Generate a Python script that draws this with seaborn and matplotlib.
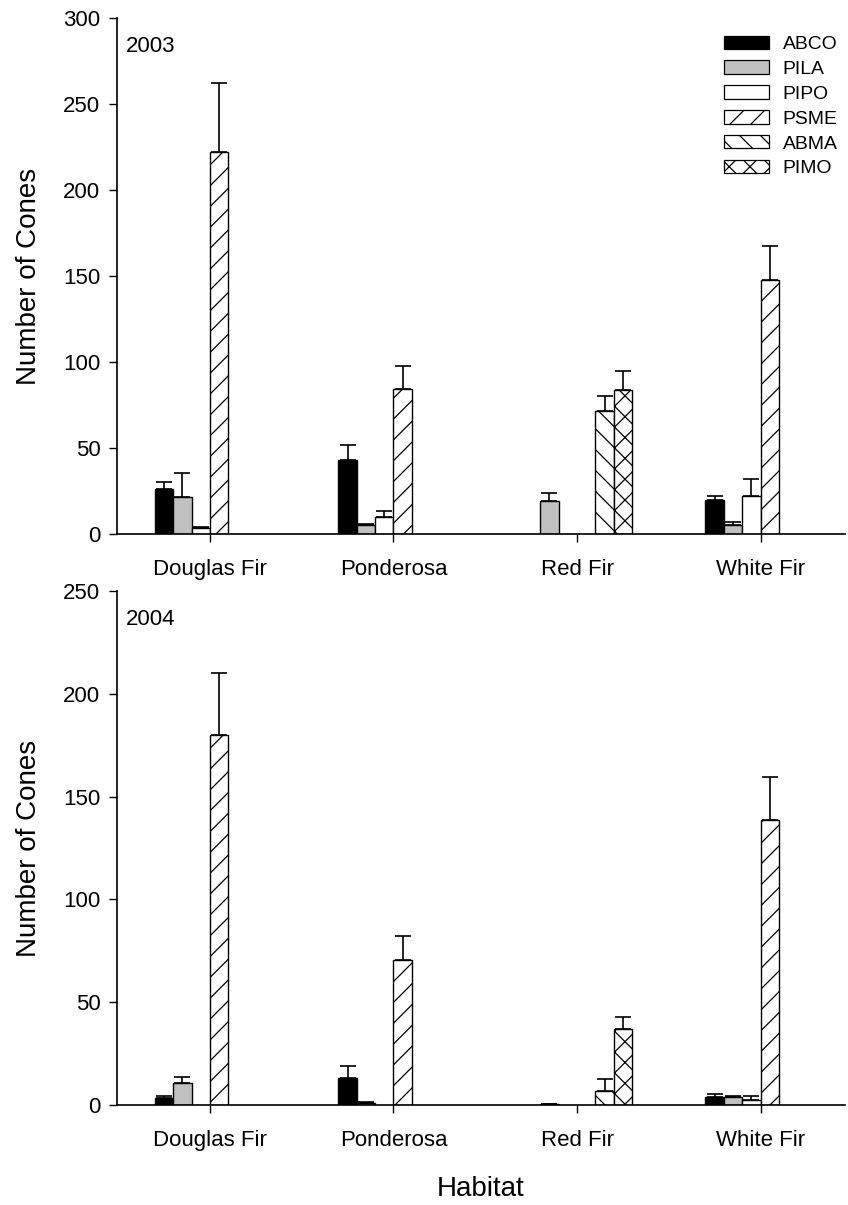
import numpy as np
import pandas as pd
import matplotlib
matplotlib.use("Agg")
import matplotlib.pyplot as plt
import seaborn as sns
from matplotlib.patches import Patch

habitats = ["Douglas Fir", "Ponderosa", "Red Fir", "White Fir"]
species = ["ABCO", "PILA", "PIPO", "PSME", "ABMA", "PIMO"]

# means and upper error (SE); NaN = no bar
cones_2003 = {
    "ABCO": [26.0, 43.0, np.nan, 19.8],
    "PILA": [21.7, 5.2, 19.0, 5.2],
    "PIPO": [3.3, 10.0, np.nan, 22.0],
    "PSME": [222.0, 84.5, np.nan, 147.7],
    "ABMA": [np.nan, np.nan, 71.5, np.nan],
    "PIMO": [np.nan, np.nan, 83.5, np.nan],
}
err_2003 = {
    "ABCO": [4.0, 9.0, np.nan, 2.5],
    "PILA": [13.9, 0.6, 5.0, 2.0],
    "PIPO": [1.0, 3.2, np.nan, 10.0],
    "PSME": [40.0, 13.0, np.nan, 20.0],
    "ABMA": [np.nan, np.nan, 8.5, np.nan],
    "PIMO": [np.nan, np.nan, 11.5, np.nan],
}
cones_2004 = {
    "ABCO": [3.6, 13.3, np.nan, 4.0],
    "PILA": [10.5, 1.0, 0.5, 3.7],
    "PIPO": [np.nan, np.nan, np.nan, 2.4],
    "PSME": [180.0, 70.4, np.nan, 138.5],
    "ABMA": [np.nan, np.nan, 6.8, np.nan],
    "PIMO": [np.nan, np.nan, 37.0, np.nan],
}
err_2004 = {
    "ABCO": [0.6, 5.7, np.nan, 1.3],
    "PILA": [3.3, 0.3, 0.2, 0.7],
    "PIPO": [np.nan, np.nan, np.nan, 2.1],
    "PSME": [30.0, 11.6, np.nan, 21.0],
    "ABMA": [np.nan, np.nan, 5.7, np.nan],
    "PIMO": [np.nan, np.nan, 6.0, np.nan],
}

years = ["2003", "2004"]
y_max = [300, 250]

colors = {"ABCO": "#000000", "PILA": "#c0c0c0", "PIPO": "#ffffff",
          "PSME": "#ffffff", "ABMA": "#ffffff", "PIMO": "#ffffff"}
hatches = {"ABCO": "", "PILA": "", "PIPO": "", "PSME": "//",
           "ABMA": "\\\\", "PIMO": "xx"}


def long_df(vals, errs):
    rows = []
    for sp in species:
        for i, h in enumerate(habitats):
            v = vals[sp][i]
            if not np.isnan(v):
                rows.append({"Habitat": h, "Species": sp, "Cones": v, "SE": errs[sp][i]})
    return pd.DataFrame(rows)


DPI = 125
S = 100.0 / DPI  # point-size scale so the layout matches 100-dpi sizing

sns.set_style("ticks")
plt.rcParams["font.family"] = ["Liberation Sans", "DejaVu Sans"]
plt.rcParams["hatch.linewidth"] = 0.9 * S
for key in ["text.color", "axes.labelcolor", "xtick.color", "ytick.color", "axes.edgecolor"]:
    plt.rcParams[key] = "black"

W, H = 848, 1205
fig = plt.figure(figsize=(W / DPI, H / DPI), dpi=DPI)

panels = [(117, 18, 845, 534), (117, 591, 845, 1105)]
datasets = [(cones_2003, err_2003), (cones_2004, err_2004)]

for k, ((x0, yt, x1, yb), (vals, errs)) in enumerate(zip(panels, datasets)):
    ax = fig.add_axes([x0 / W, 1 - yb / H, (x1 - x0) / W, (yb - yt) / H])
    df = long_df(vals, errs)
    sns.barplot(data=df, x="Habitat", y="Cones", hue="Species",
                order=habitats, hue_order=species, palette=colors,
                width=0.6, errorbar=None, edgecolor="black", linewidth=1.0 * S,
                ax=ax, legend=False)
    for cont, sp in zip(ax.containers, species):
        sub = df[df["Species"] == sp]
        for patch in cont.patches:
            patch.set_hatch(hatches[sp])
            cx = patch.get_x() + patch.get_width() / 2
            hname = habitats[int(round(cx))]
            row = sub[sub["Habitat"] == hname]
            if len(row):
                m = row["Cones"].values[0]
                e = row["SE"].values[0]
                ax.errorbar(cx, m, yerr=[[0], [e]], fmt="none", ecolor="black",
                            elinewidth=1.2 * S, capsize=5.5 * S, capthick=1.2 * S,
                            zorder=1)
    ax.set_xlim(-0.506, 3.46)
    ax.set_ylim(0, y_max[k])
    ax.set_yticks(np.arange(0, y_max[k] + 1, 50))
    ax.set_ylabel("Number of Cones", fontsize=20 * S, labelpad=15 * S)
    ax.set_xlabel("")
    ax.tick_params(axis="both", labelsize=16 * S, length=6 * S, width=1.0 * S,
                   direction="out")
    ax.tick_params(axis="x", pad=12 * S)
    ax.tick_params(axis="y", pad=6 * S)
    for s in ["top", "right"]:
        ax.spines[s].set_visible(False)
    for s in ["left", "bottom"]:
        ax.spines[s].set_linewidth(1.2 * S)
    ax.text(0.012, 0.965, years[k], transform=ax.transAxes, fontsize=16 * S,
            ha="left", va="top")
    if k == 0:
        handles = [Patch(facecolor=colors[sp], edgecolor="black", hatch=hatches[sp],
                         linewidth=0.9 * S, label=sp) for sp in species]
        ax.legend(handles=handles, loc="upper right", bbox_to_anchor=(1.014, 1.0),
                  frameon=False, fontsize=14 * S, handlelength=2.3, handleheight=0.68,
                  handletextpad=0.7, labelspacing=0.38, borderaxespad=0.5)
    if k == 1:
        ax.set_xlabel("Habitat", fontsize=20 * S, labelpad=18 * S)

fig.savefig("out.png", dpi=DPI)
